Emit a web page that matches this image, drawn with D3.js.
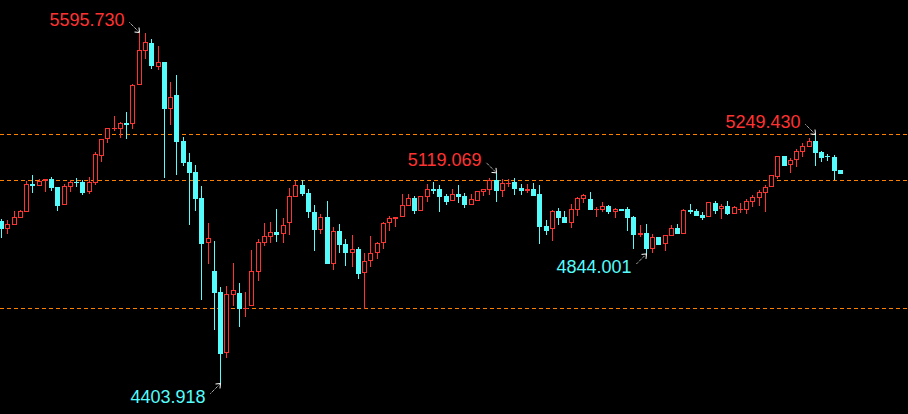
<!DOCTYPE html>
<html><head><meta charset="utf-8">
<script src="https://cdn.jsdelivr.net/npm/d3@7"></script>
<style>html,body{margin:0;padding:0;background:#000;overflow:hidden}</style>
</head><body>
<svg id="chart" width="908" height="414"></svg>
<script>
const opens = [4956,4928.5,4943.1,4965.9,4987.3,5082.3,5075.6,5091.5,5098.3,5071.1,
5011.0,5072.2,5088.1,5088.1,5054.2,5085.7,5177.4,5232.5,5268.1,5268.1,
5288.4,5284.0,5416.4,5534.0,5560.1,5480.0,5495.6,5337.0,5383.5,5227.4,
5156.0,5122.1,5033.8,4880.0,4785.9,4714.7,4506.5,4705.5,4711.3,4658.6,
4668.1,4783.5,4882.0,4902.4,4918.3,4910.5,4947.9,5038.2,5077.9,5050.8,
4986.3,4926.1,4969.3,4810.7,4921.7,4877.6,4848.0,4859.6,4780.3,4818.9,
4846.0,4880.0,4947.9,4963.5,4968.3,5007.6,5033.8,4990.7,5038.2,5064.4,
5064.4,5040.6,5023.6,5047.4,5040.6,5010.0,5023.6,5055.2,5061.0,5094.9,
5058.6,5082.3,5088.1,5067.7,5058.6,5064.4,5047.4,4938.7,4929.5,4989.7,
4969.3,4950.0,4994.1,5030.4,5030.4,4993.0,4993.0,5006.6,4986.3,4996.4,
4996.4,4969.3,4909.2,4914.9,4861.6,4900.3,4878.6,4905.8,4930.9,4912.6,
4992.0,4988.6,4976.1,4968.3,5017.8,4995.4,5005.6,4980.5,4992.0,4994.1,
5020.2,5034.8,5051.8,5070.1,5105.1,5175.4,5144.8,5161.8,5191.0,5208.0,
5227.4,5190.0,5176.4,5173.4,5129.2];
const highs = [4962.5,4959.1,4989.7,4993.0,5091.5,5111.9,5098.3,5097.3,5106.2,5071.1,
5081.3,5094.9,5101.7,5093.9,5105.1,5189.0,5233.1,5270.5,5311.2,5292.8,
5325.8,5421.8,5595.73,5593.0,5573.7,5550.0,5495.6,5428.6,5451.4,5240.0,
5186.6,5144.8,5074.5,4947.9,4888.4,4731.6,4735.0,4812.1,4745.3,4714.7,
4857.2,4895.2,4949.0,4952.3,4996.4,4965.9,5066.7,5091.5,5094.9,5064.4,
5010.0,4979.5,5023.6,4936.3,4945.5,4894.6,4908.1,4866.4,4846.0,4904.8,
4884.4,4953.3,4972.7,4968.3,5047.4,5047.4,5040.6,5040.6,5081.3,5088.1,
5077.9,5047.4,5064.4,5077.9,5050.8,5047.4,5057.6,5064.4,5101.7,5119.069,
5098.3,5098.3,5101.7,5081.3,5081.3,5084.7,5078.9,4959.1,4993.0,4999.9,
4989.7,5013.4,5037.2,5047.4,5054.2,5003.2,5020.2,5010.0,4999.9,4996.4,
5003.2,4972.7,4942.1,4945.5,4910.5,4900.3,4907.1,4941.1,4945.5,4996.4,
5012.4,4995.4,4985.3,5019.2,5022.6,5012.4,5022.6,5005.6,5015.8,5029.4,
5044.0,5061.0,5077.9,5110.9,5175.4,5175.4,5170.7,5200.7,5219.6,5236.5,
5249.43,5193.4,5184.2,5178.8,5129.2];
const lows = [4899.0,4911.6,4943.1,4965.9,4987.3,5051.8,5075.6,5055.2,5058.6,4989.7,
5011.0,5054.2,5071.1,5044.0,5047.4,5077.9,5157.1,5220.6,5262.3,5238.6,
5235.2,5269.1,5416.4,5505.7,5473.2,5469.8,5102.8,5282.6,5112.9,5143.4,
4942.1,4990.7,4688.5,4810.7,4586.6,4403.918,4491.6,4668.1,4596.8,4630.9,
4668.1,4752.1,4871.8,4882.0,4884.4,4881.0,4908.1,5038.2,5040.6,4966.9,
4854.8,4911.6,4810.7,4790.3,4848.0,4803.9,4800.5,4759.9,4657.0,4800.5,
4827.7,4861.6,4922.8,4936.3,4968.3,5007.6,4979.5,4990.7,5021.2,5047.4,
4986.3,5011.0,5023.6,5016.8,4999.9,5010.0,5023.6,5040.6,5044.0,5020.2,
5038.2,5072.2,5045.0,5045.0,5051.8,5041.6,4878.6,4909.2,4889.4,4943.1,
4950.0,4932.9,4973.7,5016.8,4993.0,4969.3,4986.3,4979.5,4965.9,4989.7,
4921.7,4860.6,4902.4,4844.001,4848.0,4875.2,4854.8,4905.8,4912.6,4911.6,
4980.5,4973.7,4960.1,4968.3,4980.5,4963.5,4975.1,4980.5,4982.9,4980.5,
5002.2,5006.6,4987.3,5070.1,5098.3,5143.4,5119.7,5140.1,5174.0,5208.0,
5143.4,5157.1,5159.5,5094.9,5116.3];
const closes = [4928.5,4945.5,4968.3,4989.7,5081.3,5075.6,5091.5,5096.6,5067.7,5006.6,
5074.5,5088.1,5084.7,5050.8,5088.1,5183.2,5233.1,5270.5,5272.5,5287.4,
5281.6,5416.4,5535.3,5562.5,5483.4,5494.9,5337.0,5376.7,5225.0,5153.6,
5119.7,5031.4,4878.6,4897.0,4712.3,4505.1,4707.9,4720.5,4658.0,4660.3,
4784.9,4883.3,4903.7,4917.3,4908.1,4941.1,5039.6,5076.9,5047.4,4987.3,
4926.1,4968.3,4810.7,4921.7,4875.2,4848.0,4859.6,4776.9,4818.9,4846.0,
4881.0,4949.0,4964.8,4968.3,5009.0,5033.8,4989.7,5040.6,5064.4,5057.6,
5037.2,5020.2,5047.4,5038.2,5010.0,5030.4,5057.6,5064.4,5094.9,5057.6,
5084.7,5085.7,5065.4,5058.6,5064.4,5041.6,4936.3,4922.8,4989.7,4966.9,
4950.0,4996.4,5033.8,5044.0,4993.0,4996.4,5006.6,4986.3,4996.4,4989.7,
4965.9,4909.2,4914.9,4861.6,4900.3,4875.2,4907.1,4930.9,4912.6,4993.0,
4985.3,4973.7,4966.9,5019.2,4989.7,5005.6,4980.5,5002.2,4996.4,5022.6,
5037.2,5053.1,5071.1,5110.9,5175.4,5143.4,5162.8,5192.4,5209.3,5226.4,
5186.6,5169.8,5172.0,5126.5,5116.3];
const levels = [5249.43, 5093.2, 4658.6];
const markIndex = [22, 35, 79, 103, 130];
const markKind = ["high", "low", "high", "low", "high"];

const W = 908, H = 414;
const UP = "#ff3232", DOWN = "#54fcfc", LEVEL = "#ff8000";
const n = opens.length;
const x = d3.scaleBand().domain(d3.range(n)).range([-1.63, 843.6]);
const y = d3.scaleLinear().domain([4403.918, 5595.73]).range([383.5, 32.5]);
const cx = i => Math.floor(x(i) + x.bandwidth() / 2);

const svg = d3.select("#chart").attr("shape-rendering", "crispEdges");
svg.append("rect").attr("width", W).attr("height", H).attr("fill", "#000");

svg.append("g").selectAll("line").data(levels).join("line")
  .attr("x1", 0).attr("x2", W)
  .attr("y1", d => Math.floor(y(d)) + 0.5).attr("y2", d => Math.floor(y(d)) + 0.5)
  .attr("stroke", LEVEL).attr("stroke-width", 1).attr("stroke-dasharray", "4,3");

const data = d3.range(n).map(i => ({i, o: opens[i], h: highs[i], l: lows[i], c: closes[i], up: closes[i] >= opens[i]}));
const g = svg.append("g").selectAll("g").data(data).join("g");
g.append("rect")
  .attr("x", d => cx(d.i)).attr("width", 1)
  .attr("y", d => Math.round(y(d.h)))
  .attr("height", d => Math.max(1, Math.round(y(d.l)) - Math.round(y(d.h))))
  .attr("fill", d => d.up ? UP : DOWN);
g.each(function(d) {
  const sel = d3.select(this);
  const bt = Math.round(y(Math.max(d.o, d.c)));
  const bb = Math.round(y(Math.min(d.o, d.c)));
  const bh = bb - bt;
  if (!d.up) {
    sel.append("rect").attr("x", cx(d.i) - 2).attr("y", bt).attr("width", 5)
      .attr("height", Math.max(1, bh)).attr("fill", DOWN);
  } else if (bh >= 3) {
    sel.append("rect").attr("x", cx(d.i) - 2 + 0.5).attr("y", bt + 0.5).attr("width", 4)
      .attr("height", bh - 1).attr("fill", "#000").attr("stroke", UP).attr("stroke-width", 1);
  } else {
    sel.append("rect").attr("x", cx(d.i) - 2).attr("y", bt).attr("width", 5)
      .attr("height", Math.max(1, bh)).attr("fill", UP);
  }
});

const fmt = d3.format(".3f");
const marks = markIndex.map((i, k) => {
  const kind = markKind[k];
  const v = kind === "high" ? highs[i] : lows[i];
  return {i, kind, v, tx: cx(i) + 0.5, ty: y(v)};
});
const mg = svg.append("g").attr("shape-rendering", "auto");
marks.forEach(m => {
  const dir = m.kind === "high" ? -1 : 1;
  const sx = m.tx - 10, sy = m.ty + dir * 10;
  mg.append("line").attr("x1", sx).attr("y1", sy).attr("x2", m.tx - 1).attr("y2", m.ty + dir * 1)
    .attr("stroke", "#fff").attr("stroke-width", 1).attr("stroke-dasharray", "1,1");
  mg.append("path")
    .attr("d", `M${m.tx - 5},${m.ty + dir * 0.5}L${m.tx},${m.ty}L${m.tx - 0.5},${m.ty + dir * 5}`)
    .attr("fill", "none").attr("stroke", "#fff").attr("stroke-width", 1);
  mg.append("text")
    .attr("x", m.tx - 15).attr("y", m.kind === "high" ? m.ty - 6.5 : m.ty + 19)
    .attr("text-anchor", "end")
    .attr("font-family", "Liberation Sans, Arial, sans-serif").attr("font-size", 18)
    .attr("fill", m.kind === "high" ? UP : DOWN)
    .text(fmt(m.v));
});
</script>
</body></html>
